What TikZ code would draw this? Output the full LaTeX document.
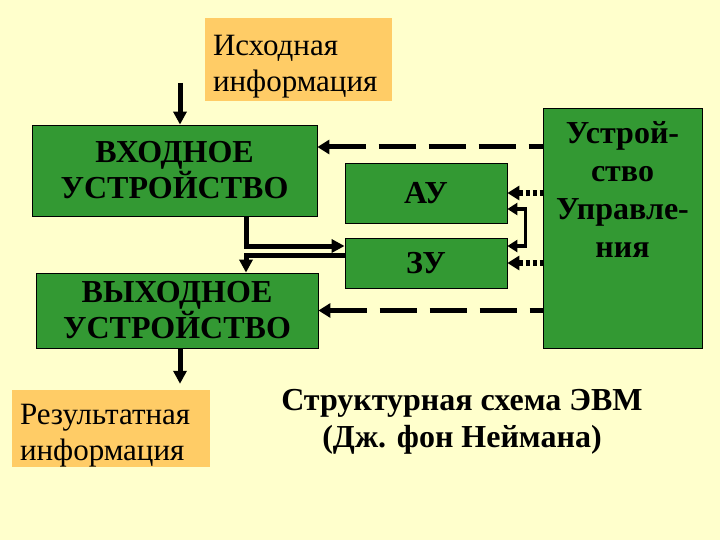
\documentclass[tikz,border=0pt]{standalone}
\usepackage{fontspec}
\setmainfont{Liberation Serif}
\usetikzlibrary{arrows.meta}
\definecolor{fon}{HTML}{FFFFCC}
\definecolor{zelen}{HTML}{339933}
\definecolor{oranzh}{HTML}{FFCC66}

\begin{document}
\begin{tikzpicture}[
  x=1pt, y=-1pt,
  blok/.style={draw=black, line width=0.8pt, fill=zelen, align=center, inner sep=0pt, font=\fontsize{32}{36}\bfseries\selectfont},
  info/.style={fill=oranzh, align=left, inner xsep=8pt, inner ysep=0pt, text height=34pt, font=\fontsize{31}{36}\selectfont},
  strelka/.style={-{Triangle[width=13pt,length=13pt]}, line width=5pt},
  punktir/.style={{Triangle[width=14pt,length=12pt]}-, line width=5pt, dash pattern=on 37pt off 13pt},
  tochki/.style={{Triangle[width=14pt,length=12pt]}-, line width=5.5pt, dash pattern=on 4pt off 3pt},
  skoba/.style={{Triangle[width=12pt,length=10pt]}-{Triangle[width=12pt,length=10pt]}, line width=3.5pt}]
\fill[fon] (0,0) rectangle (720,540);
% ---- ishodnye dannye i vvod
\node[info, text width=171pt, minimum height=83pt] (isx) at (298.5,59.5) {Исходная\\информация};
\node[blok, minimum width=285pt, minimum height=91pt] (vvod) at (174.5,170.5) {ВХОДНОЕ\\УСТРОЙСТВО};
% ---- AU, ZU i UU
\node[blok, minimum width=162pt, minimum height=60pt] (au) at (426,193) {АУ};
\node[blok, minimum width=162pt, minimum height=50pt] (zu) at (426,263) {ЗУ};
\node[blok, minimum width=159pt, minimum height=240pt] (uu) at (622.5,228) {};
\node[font=\fontsize{32}{38}\bfseries\selectfont, align=center, anchor=north, inner sep=0pt] (uutxt) at ([yshift=-14pt]uu.north) {Устрой-\\ство\\Управле-\\ния};
% ---- vyvod i rezultat
\node[blok, minimum width=282pt, minimum height=75pt] (vyvod) at (177,310.5) {ВЫХОДНОЕ\\УСТРОЙСТВО};
\node[info, text width=182pt, minimum height=77pt] (rez) at (111,428.5) {Результатная\\информация};
\node[font=\fontsize{32}{37}\bfseries\selectfont, align=center] (zag) at (462,422) {Структурная схема ЭВМ\\(Дж. фон Неймана)};
% ---- svyazi
\coordinate (nach) at (180,83);
\coordinate (ugol) at (246,246);
\coordinate (ugol2) at (246,255);
\coordinate (ryad) at (0,147);
\draw[strelka] (nach) -- (nach |- vvod.north);
\draw[strelka, shorten >=6pt] (vyvod.south -| nach) -- (rez.north -| nach);
\draw[strelka] (vvod.south -| ugol) |- (zu.west |- ugol);
\draw[strelka] (zu.west |- ugol2) -| (vyvod.north -| ugol2);
\draw[punktir] (vvod.east |- ryad) -- (uu.west |- ryad);
\draw[punktir] (vyvod.east) -- (uu.west |- vyvod.east);
\draw[tochki] (au.east) -- (uu.west |- au.east);
\draw[tochki] (zu.east) -- (uu.west |- zu.east);
\draw[skoba] ([yshift=-16pt]au.east) -- ++(18,0) |- ([yshift=17pt]zu.east);
\end{tikzpicture}
\end{document}
